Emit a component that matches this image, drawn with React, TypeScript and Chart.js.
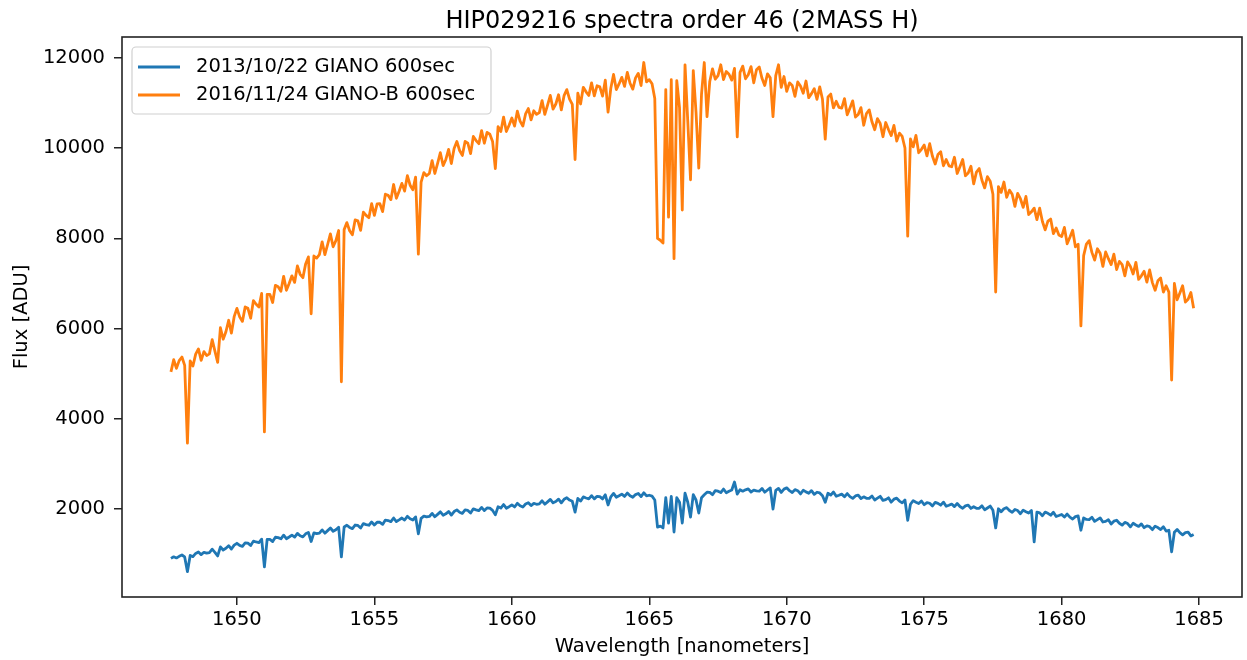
import React, { useEffect, useRef } from 'react';
import { Chart, registerables } from 'chart.js';

Chart.register(...registerables);

const TITLE = 'HIP029216 spectra order 46 (2MASS H)';
const X_LABEL = 'Wavelength [nanometers]';
const Y_LABEL = 'Flux [ADU]';
const SERIES_LABELS = ['2013/10/22 GIANO 600sec', '2016/11/24 GIANO-B 600sec'];
const SERIES_COLORS = ['#1f77b4', '#ff7f0e'];

const X_TICKS = [1650, 1655, 1660, 1665, 1670, 1675, 1680, 1685];
const Y_TICKS = [2000, 4000, 6000, 8000, 10000, 12000];
const X_RANGE = [1645.82, 1686.56];
const Y_RANGE = [49, 12466];

// wavelength grid of the extracted order (nm)
const WAVELENGTH_START = 1647.6;
const WAVELENGTH_STEP = 0.1;

// 2013/10/22 GIANO 600sec
const FLUX_2013 = [
  905, 940, 915, 950,
  980, 938, 610, 970, 945, 1015, 1048, 988, 1040, 1022,
  1035, 1109, 1040, 960, 1161, 1092, 1129, 1188, 1112, 1198,
  1240, 1193, 1170, 1251, 1244, 1190, 1288, 1269, 1256, 1331,
  720, 1327, 1326, 1279, 1374, 1365, 1339, 1421, 1342, 1379,
  1420, 1377, 1460, 1407, 1381, 1450, 1482, 1280, 1472, 1453,
  1465, 1536, 1464, 1521, 1579, 1507, 1541, 1597, 940, 1601,
  1640, 1591, 1566, 1645, 1636, 1580, 1676, 1655, 1640, 1713,
  1645, 1707, 1706, 1659, 1754, 1745, 1719, 1801, 1722, 1759,
  1800, 1756, 1838, 1784, 1757, 1825, 1450, 1794, 1844, 1824,
  1835, 1903, 1828, 1882, 1937, 1862, 1893, 1946, 1864, 1944,
  1980, 1929, 1902, 1979, 1968, 1910, 2004, 1981, 1964, 2035,
  1965, 2024, 2020, 1970, 1870, 2050, 2021, 2100, 2018, 2052,
  2090, 2045, 2126, 2071, 2043, 2110, 2140, 2077, 2126, 2105,
  2115, 2182, 2106, 2159, 2213, 2137, 2167, 2219, 2136, 2215,
  2250, 2198, 2170, 1930, 2234, 2175, 2268, 2244, 2226, 2296,
  2225, 2282, 2276, 2224, 2314, 2090, 2269, 2346, 2262, 2294,
  2330, 2279, 2354, 2293, 2259, 2320, 2344, 2275, 2360, 2291,
  2305, 2285, 2200, 1600, 1620, 1580, 2250, 1690, 2280, 1490,
  2250, 2150, 1690, 2350, 2150, 1820, 2320, 2200, 1910, 2250,
  2315, 2373, 2368, 2317, 2408, 2395, 2365, 2443, 2360, 2393,
  2420, 2600, 2330, 2428, 2395, 2425, 2446, 2378, 2418, 2402,
  2395, 2456, 2372, 2421, 2469, 2000, 2411, 2457, 2368, 2441,
  2470, 2406, 2366, 2430, 2406, 2335, 2416, 2380, 2350, 2408,
  2325, 2372, 2356, 2294, 2150, 2350, 2309, 2376, 2282, 2304,
  2330, 2273, 2342, 2275, 2235, 2290, 2308, 2233, 2270, 2237,
  2235, 2289, 2200, 2240, 2281, 2192, 2209, 2248, 2152, 2218,
  2240, 2176, 2136, 2200, 1750, 2105, 2186, 2150, 2120, 2178,
  2095, 2143, 2128, 2067, 2148, 2125, 2085, 2153, 2060, 2083,
  2110, 2053, 2122, 2055, 2015, 2070, 2088, 2013, 2050, 2017,
  2015, 2070, 1982, 2023, 2065, 1972, 1580, 2005, 1940, 2007,
  2030, 1966, 1926, 1990, 1966, 1895, 1976, 1940, 1910, 1968,
  1270, 1931, 1914, 1851, 1930, 1905, 1863, 1929, 1834, 1855,
  1880, 1821, 1888, 1819, 1777, 1830, 1846, 1530, 1804, 1769,
  1765, 1817, 1726, 1764, 1803, 1712, 1727, 1764, 1666, 1730,
  1750, 1684, 1642, 1704, 1678, 1605, 1684, 1646, 1614, 1670,
  1585, 1628, 1608, 1542, 1618, 1590, 1545, 1608, 1510, 1528,
  1050, 1486, 1548, 1474, 1427, 1475, 1486, 1404, 1434,
];

// 2016/11/24 GIANO-B 600sec
const FLUX_2016 = [
  5040, 5310, 5120, 5290,
  5370, 5185, 3460, 5285, 5170, 5435, 5550, 5295, 5490, 5405,
  5440, 5755, 5500, 5250, 6020, 5765, 5930, 6185, 5900, 6265,
  6450, 6260, 6160, 6480, 6450, 6230, 6620, 6540, 6480, 6780,
  3710, 6760, 6760, 6580, 6960, 6930, 6830, 7160, 6850, 7000,
  7170, 7025, 7390, 7205, 7130, 7435, 7590, 6330, 7610, 7565,
  7640, 7925, 7640, 7865, 8100, 7815, 7950, 8175, 4820, 8195,
  8350, 8170, 8080, 8410, 8390, 8180, 8580, 8510, 8460, 8770,
  8510, 8765, 8770, 8595, 8980, 8955, 8860, 9195, 8890, 9045,
  9220, 9050, 9390, 9180, 9080, 9360, 7650, 9250, 9460, 9390,
  9440, 9725, 9440, 9665, 9900, 9615, 9750, 9975, 9660, 9995,
  10150, 9950, 9840, 10150, 10110, 9880, 10260, 10170, 10100, 10390,
  10110, 10350, 10310, 10150, 9550, 10480, 10370, 10690, 10370, 10510,
  10670, 10490, 10820, 10600, 10490, 10760, 10880, 10630, 10830, 10750,
  10790, 11055, 10750, 10955, 11170, 10865, 10980, 11185, 10850, 11165,
  11300, 11090, 10970, 9750, 11220, 10980, 11350, 11250, 11170, 11450,
  11160, 11385, 11360, 11155, 11510, 10800, 11330, 11635, 11300, 11425,
  11570, 11370, 11680, 11440, 11310, 11560, 11660, 11390, 11900, 11470,
  11520, 11430, 11100, 8000, 7960, 7900, 11300, 8470, 11520, 7550,
  11500, 10900, 8630, 11850, 10600, 9300, 11720, 10800, 9560, 11200,
  11900, 10700, 11480, 11760, 11530, 11610, 11850, 11520, 11700, 11640,
  11510, 11770, 10250, 11680, 11820, 11540, 11630, 11810, 11450, 11740,
  11800, 11550, 11390, 11650, 11560, 10700, 11610, 11850, 11350, 11590,
  11260, 11450, 11390, 11150, 11470, 11380, 11220, 11490, 11120, 11210,
  11320, 11085, 11360, 11085, 10200, 11135, 11200, 10895, 11040, 10905,
  10890, 11100, 10740, 10890, 11050, 10690, 10750, 10900, 10510, 10770,
  10850, 10585, 10410, 10655, 10550, 10255, 10570, 10415, 10280, 10505,
  10160, 10335, 10260, 10005, 8050, 10205, 10030, 10285, 9900, 9975,
  10070, 9830, 10100, 9820, 9650, 9860, 9920, 9610, 9750, 9610,
  9590, 9800, 9440, 9590, 9750, 9390, 9450, 9600, 9210, 9470,
  9550, 9290, 9120, 9370, 9270, 8980, 6810, 9150, 9020, 9250,
  8910, 9070, 8980, 8710, 9000, 8880, 8690, 8930, 8530, 8590,
  8670, 8415, 8670, 8375, 8190, 8385, 8430, 8105, 8230, 8075,
  8040, 8245, 7880, 8025, 8180, 7815, 7870, 6060, 7620, 7875,
  7950, 7690, 7520, 7770, 7670, 7380, 7700, 7550, 7420, 7650,
  7310, 7490, 7420, 7170, 7480, 7380, 7210, 7470, 7090, 7170,
  7270, 7030, 7300, 7020, 6850, 7060, 7120, 6810, 6950, 6810,
  4860, 7000, 6640, 6790, 6950, 6590, 6650, 6800, 6450,
];

const FONT = 'DejaVu Sans';
const TEXT_SIZE = 19.5;
const TITLE_SIZE = 24;
const AXIS_COLOR = '#222222';
const LINE_WIDTH = 2.8;

const framePlugin = {
  id: 'frame',
  afterDraw(chart: any) {
    const { ctx, chartArea: a } = chart;
    ctx.save();
    ctx.strokeStyle = AXIS_COLOR;
    ctx.lineWidth = 1.6;
    ctx.strokeRect(a.left, a.top, a.right - a.left, a.bottom - a.top);
    ctx.restore();
  },
};

const titlePlugin = {
  id: 'mplTitle',
  afterDraw(chart: any) {
    const { ctx, chartArea: a } = chart;
    ctx.save();
    ctx.font = `${TITLE_SIZE}px "${FONT}"`;
    ctx.fillStyle = '#000';
    ctx.textAlign = 'center';
    ctx.textBaseline = 'alphabetic';
    ctx.fillText(TITLE, (a.left + a.right) / 2, a.top - 9);
    ctx.restore();
  },
};

const legendPlugin = {
  id: 'mplLegend',
  afterDraw(chart: any) {
    const { ctx, chartArea: a } = chart;
    const x0 = a.left + 10;
    const y0 = a.top + 10;
    const w = 359;
    const h = 67;
    const r = 4;
    ctx.save();
    ctx.beginPath();
    ctx.moveTo(x0 + r, y0);
    ctx.lineTo(x0 + w - r, y0);
    ctx.arcTo(x0 + w, y0, x0 + w, y0 + r, r);
    ctx.lineTo(x0 + w, y0 + h - r);
    ctx.arcTo(x0 + w, y0 + h, x0 + w - r, y0 + h, r);
    ctx.lineTo(x0 + r, y0 + h);
    ctx.arcTo(x0, y0 + h, x0, y0 + h - r, r);
    ctx.lineTo(x0, y0 + r);
    ctx.arcTo(x0, y0, x0 + r, y0, r);
    ctx.closePath();
    ctx.fillStyle = 'rgba(255,255,255,0.8)';
    ctx.fill();
    ctx.strokeStyle = '#d0d0d0';
    ctx.lineWidth = 1.2;
    ctx.stroke();
    ctx.font = `${TEXT_SIZE}px "${FONT}"`;
    ctx.textAlign = 'left';
    ctx.textBaseline = 'middle';
    chart.data.datasets.forEach((ds: any, i: number) => {
      const yy = y0 + 20 + i * 28;
      ctx.beginPath();
      ctx.moveTo(x0 + 6, yy);
      ctx.lineTo(x0 + 48, yy);
      ctx.strokeStyle = ds.borderColor;
      ctx.lineWidth = LINE_WIDTH;
      ctx.stroke();
      ctx.fillStyle = '#000';
      ctx.fillText(ds.label, x0 + 64, yy);
    });
    ctx.restore();
  },
};

export default function App() {
  const ref = useRef<HTMLCanvasElement>(null);
  useEffect(() => {
    document.body.style.margin = '0';
    const xs = FLUX_2013.map((_, i) => Math.round((WAVELENGTH_START + i * WAVELENGTH_STEP) * 100) / 100);
    const series = [FLUX_2013, FLUX_2016];
    const tickFont = { family: FONT, size: TEXT_SIZE };
    const chart = new Chart(ref.current as HTMLCanvasElement, {
      type: 'line',
      data: {
        datasets: series.map((vals, k) => ({
          label: SERIES_LABELS[k],
          data: vals.map((y, i) => ({ x: xs[i], y })),
          borderColor: SERIES_COLORS[k],
          backgroundColor: SERIES_COLORS[k],
          borderWidth: LINE_WIDTH,
          borderJoinStyle: 'round',
          pointRadius: 0,
          fill: false,
          tension: 0,
        })),
      },
      options: {
        responsive: false,
        animation: false,
        devicePixelRatio: 1,
        layout: { padding: { left: 0, right: 5, top: 37, bottom: 0 } },
        plugins: {
          legend: { display: false },
          title: { display: false },
          tooltip: { enabled: false },
        },
        scales: {
          x: {
            type: 'linear',
            min: X_RANGE[0],
            max: X_RANGE[1],
            afterBuildTicks: (s: any) => {
              s.ticks = X_TICKS.map((v) => ({ value: v }));
            },
            afterFit: (s: any) => {
              s.height = 63;
            },
            ticks: {
              font: tickFont,
              color: '#000',
              padding: 3,
              maxRotation: 0,
              autoSkip: false,
              callback: (v: any) => String(v),
            },
            grid: { display: true, drawOnChartArea: false, drawTicks: true, tickLength: 8, color: AXIS_COLOR, lineWidth: 1.5 },
            border: { display: false },
            title: { display: true, text: X_LABEL, font: tickFont, color: '#000', padding: { top: 0, bottom: 1 } },
          },
          y: {
            type: 'linear',
            min: Y_RANGE[0],
            max: Y_RANGE[1],
            afterBuildTicks: (s: any) => {
              s.ticks = Y_TICKS.map((v) => ({ value: v }));
            },
            afterFit: (s: any) => {
              s.width = 122;
            },
            ticks: {
              font: tickFont,
              color: '#000',
              padding: 9,
              autoSkip: false,
              callback: (v: any) => String(v),
            },
            grid: { display: true, drawOnChartArea: false, drawTicks: true, tickLength: 8, color: AXIS_COLOR, lineWidth: 1.5 },
            border: { display: false },
            title: { display: true, text: Y_LABEL, font: tickFont, color: '#000', padding: { top: 10, bottom: 0 } },
          },
        },
      },
      plugins: [framePlugin, titlePlugin, legendPlugin],
    } as any);
    return () => chart.destroy();
  }, []);
  return (
    <div style={{ position: 'absolute', left: 0, top: 0, width: 1247, height: 660 }}>
      <canvas ref={ref} width={1247} height={660} style={{ display: 'block', width: 1247, height: 660 }} />
    </div>
  );
}
